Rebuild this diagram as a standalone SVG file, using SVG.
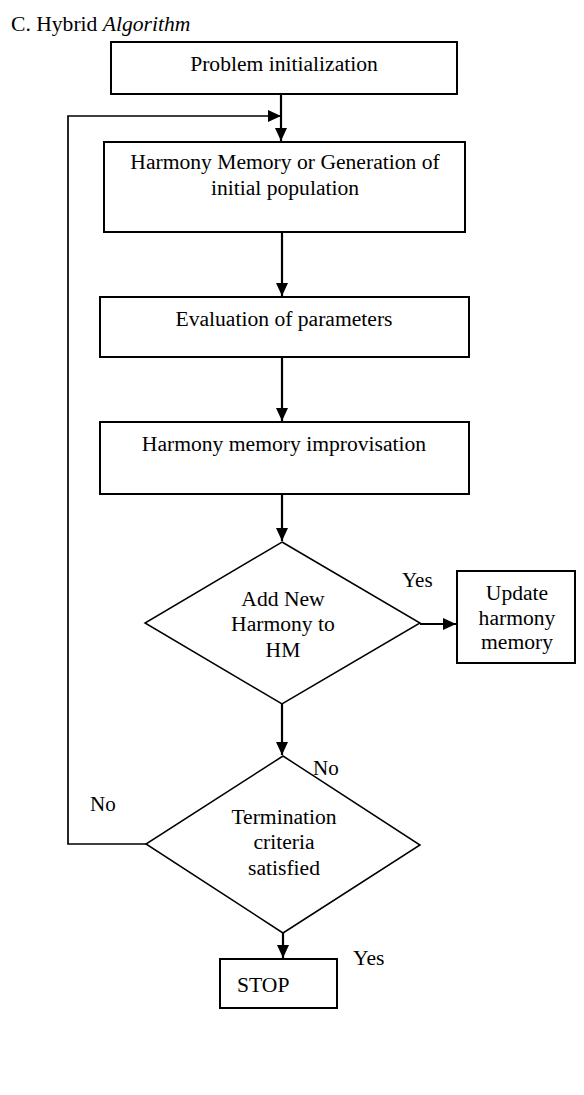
<svg xmlns="http://www.w3.org/2000/svg" width="584" height="1095" viewBox="0 0 584 1095">
<defs>
<marker id="ah" markerWidth="13" markerHeight="12" refX="13" refY="6" orient="auto" markerUnits="userSpaceOnUse">
<path d="M0,0 L13,6 L0,12 Z" fill="#000"/>
</marker>
</defs>
<style>
text{font-family:"Liberation Serif","Times New Roman",serif;fill:#000;font-size:21.6px}
.box{fill:#fff;stroke:#000;stroke-width:2}
.dia{fill:#fff;stroke:#000;stroke-width:1.5}
.c{text-anchor:middle}
.ln{fill:none;stroke:#000;stroke-width:2.2}
.fb{fill:none;stroke:#000;stroke-width:1.7}
.lb{font-size:21px}
</style>
<rect width="584" height="1095" fill="#fff"/>
<text x="11" y="31" font-size="20.6">C. Hybrid <tspan font-style="italic">Algorithm</tspan></text>
<g id="connectors">
<line class="ln" x1="281" y1="94" x2="281" y2="141" marker-end="url(#ah)"/>
<polyline class="fb" points="146,844 68,844 68,116 281,116" marker-end="url(#ah)"/>
<line class="ln" x1="282" y1="232" x2="282" y2="296" marker-end="url(#ah)"/>
<line class="ln" x1="282" y1="357" x2="282" y2="421" marker-end="url(#ah)"/>
<line class="ln" x1="282" y1="494" x2="282" y2="541" marker-end="url(#ah)"/>
<line class="ln" x1="420" y1="624" x2="456" y2="624" marker-end="url(#ah)"/>
<line class="ln" x1="282" y1="704" x2="282" y2="755" marker-end="url(#ah)"/>
<line class="ln" x1="283" y1="933" x2="283" y2="958" marker-end="url(#ah)"/>
<text class="lb" x="402" y="587">Yes</text>
<text class="lb" x="313" y="775">No</text>
<text class="lb" x="90" y="811">No</text>
<text x="353" y="965" font-size="25.5">Yes</text>
</g>
<g id="n1">
<rect class="box" x="111" y="42" width="346" height="52"/>
<text class="c" x="284" y="71">Problem initialization</text>
</g>
<g id="n2">
<rect class="box" x="104" y="142" width="361" height="90"/>
<text class="c" x="285" y="169">Harmony Memory or Generation of</text>
<text class="c" x="285" y="195">initial population</text>
</g>
<g id="n3">
<rect class="box" x="100" y="297" width="369" height="60"/>
<text class="c" x="284" y="326">Evaluation of parameters</text>
</g>
<g id="n4">
<rect class="box" x="100" y="422" width="369" height="72"/>
<text class="c" x="284" y="451">Harmony memory improvisation</text>
</g>
<g id="n5">
<polygon class="dia" points="282,542 420,623 282,704 145,623"/>
<text class="c" x="283" y="606">Add New</text>
<text class="c" x="283" y="631">Harmony to</text>
<text class="c" x="283" y="657">HM</text>
</g>
<g id="n6">
<rect class="box" x="457" y="571" width="118" height="92"/>
<text class="c" x="517" y="600">Update</text>
<text class="c" x="517" y="625">harmony</text>
<text class="c" x="517" y="649">memory</text>
</g>
<g id="n7">
<polygon class="dia" points="283,756 420,845 283,933 146,844"/>
<text class="c" x="284" y="824">Termination</text>
<text class="c" x="284" y="849">criteria</text>
<text class="c" x="284" y="875">satisfied</text>
</g>
<g id="n8">
<rect class="box" x="220" y="959" width="117" height="49"/>
<text x="237" y="992" font-size="25.5">STOP</text>
</g>
</svg>
